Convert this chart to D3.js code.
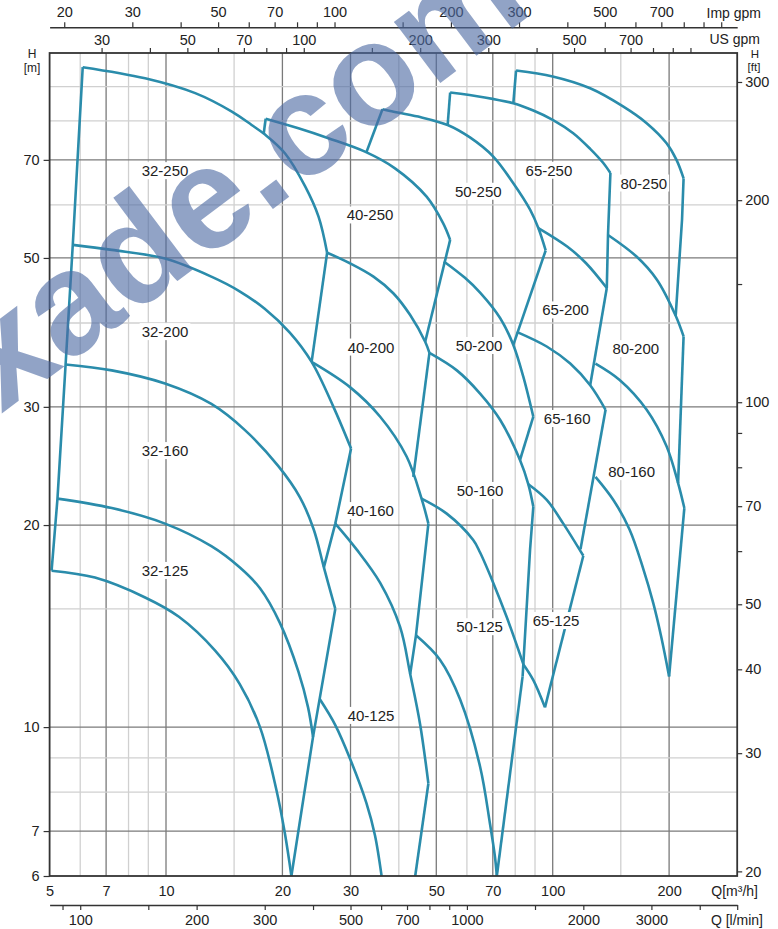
<!DOCTYPE html>
<html><head><meta charset="utf-8">
<script src="https://cdn.jsdelivr.net/npm/d3@7"></script>
<style>
body{margin:0;background:#fff;}
svg{display:block;font-family:"Liberation Sans",Arial,Helvetica,sans-serif;}
</style></head><body>
<svg id="chart" width="778" height="929"></svg>
<script>
// ---------- axis tick values ----------
const gridQ = [6,7,8,9,10,15,20,30,40,50,60,70,80,90,100,150,200];
const qLabels = [5,7,10,20,30,50,70,100,200];
const gridH = [7,8,9,10,15,20,30,40,50,60,70,80,90];
const hLabels = [6,7,10,20,30,50,70];
const impTicks = [20,30,40,50,60,70,80,90,100,150,200,300,400,500,600,700,800,900,1000];
const impLabels = [20,30,50,70,100,200,300,500,700];
const usTicks = [30,40,50,60,70,80,90,100,150,200,300,400,500,600,700,800,900,1000];
const usLabels = [30,50,70,100,200,300,500,700];
const lminTicks = [90,100,150,200,300,400,500,600,700,800,900,1000,1500,2000,3000,4000,5000];
const lminLabels = [100,200,300,500,700,1000,2000,3000];
const ftTicks = [20,30,40,50,60,70,80,90,100,150,200,300];
const ftLabels = [20,30,40,50,70,100,200,300];

// ---------- curves: [Q m3/h, H m] ----------
// family 32
const line32Left   = [[6.09,96.2],[5.74,52.3],[5.50,34.7],[5.24,21.9],[5.06,17.1]];
const top32_250    = [[6.09,96.2],[8.83,92.6],[11.9,88.0],[14.8,82.6],[16.65,78.9],[18.0,76.4],[20.3,71.6],[22.9,63.9],[24.8,57.6],[26.1,50.9]];
const top32_200    = [[5.74,52.3],[7.24,51.4],[9.94,49.9],[13.1,46.9],[15.5,44.6],[18.0,42.0],[20.9,38.7],[23.8,35.0],[27.1,30.0],[30.1,26.0]];
const right32_200  = [[30.1,26.0],[27.4,20.1],[25.6,17.3]];
const top32_160    = [[5.50,34.7],[7.24,34.0],[9.94,32.5],[13.1,30.3],[16.0,27.7],[19.5,24.5],[22.2,22.0],[24.1,19.7],[25.6,17.3],[27.4,15.0]];
const right32_160  = [[27.4,15.0],[24.0,9.67],[21.1,6.0]];
const top32_125    = [[5.24,21.9],[7.24,21.2],[9.94,20.1],[13.1,18.6],[15.5,17.3],[17.5,16.1],[19.7,14.3],[22.0,12.1],[23.3,10.7],[24.0,9.67]];
const bottom32_125 = [[5.06,17.1],[6.55,16.7],[8.83,15.6],[10.8,14.6],[13.4,13.0],[15.5,11.6],[17.5,10.0],[19.3,8.06],[20.3,6.94],[21.1,6.0]];
// family 40
const left40_250   = [[18.1,80.6],[17.9,76.7]];
const top40_250    = [[18.1,80.6],[22.0,78.0],[26.3,75.4],[32.7,72.0],[39.1,68.0],[47.2,61.7],[52.1,56.3],[54.3,53.2]];
const right40_250  = [[54.3,53.2],[46.8,37.5]];
const left40_200   = [[26.1,50.9],[23.8,35.0]];
const top40_200    = [[26.1,50.9],[29.9,49.1],[34.4,46.9],[38.7,44.3],[42.8,41.1],[46.8,37.5],[48.0,36.1]];
const right40_200  = [[48.0,36.1],[43.6,23.6]];
const top40_160    = [[23.8,35.0],[29.9,32.1],[35.8,29.0],[41.9,25.3],[45.8,21.9],[47.7,20.1]];
const right40_160  = [[47.7,20.1],[44.3,13.7],[42.8,12.0]];
const top40_125    = [[27.4,20.1],[31.1,18.4],[35.8,16.4],[40.3,14.1],[42.8,12.0],[45.4,10.1],[47.7,8.24]];
const right40_125  = [[47.7,8.24],[44.1,6.0]];
const bottom40_125 = [[25.0,11.0],[27.4,10.07],[29.9,8.98],[33.0,7.70],[34.7,6.90],[36.1,6.0]];
// family 50
const left50_250   = [[36.3,83.3],[33.0,71.9]];
const top50_250    = [[36.3,83.3],[38.0,82.8],[44.9,81.2],[53.5,78.9],[61.1,75.6],[70.2,70.8],[79.1,64.6],[87.4,59.0],[91.8,55.4],[95.9,51.3]];
const right50_250  = [[95.9,51.3],[79.1,37.1]];
const top50_200    = [[52.3,49.4],[59.3,46.7],[64.9,44.4],[73.1,40.7],[79.1,37.1],[83.9,33.3],[89.1,29.0]];
const right50_200  = [[89.1,29.0],[82.3,25.0]];
const top50_160    = [[48.0,36.1],[56.5,34.0],[64.9,31.4],[73.1,28.7],[82.3,25.0],[86.5,23.0],[89.1,21.3]];
const right50_160  = [[89.1,21.3],[87.4,18.4],[83.6,11.9]];
const bottom50_160 = [[45.8,21.9],[53.2,20.8],[62.3,19.0],[64.9,18.2],[70.2,16.4],[76.0,14.6],[84.0,12.4]];
const right50_125  = [[83.6,11.9],[71.7,6.0]];
const bottom50_125 = [[44.3,13.7],[51.1,12.6],[57.6,11.0],[64.9,8.73],[68.8,7.19],[70.9,6.41],[71.7,6.0]];
// family 65
const left65_250   = [[54.3,88.2],[53.5,78.9]];
const top65_250    = [[54.3,88.2],[66.1,86.8],[79.1,85.0],[89.1,82.9],[100,80.3],[113,76.7],[125,72.7],[135,69.3],[141,66.9]];
const right65_250  = [[141,66.9],[139,54.1],[138,45.1]];
const top65_200    = [[91.8,55.4],[109,52.0],[122,49.1],[138,45.1]];
const right65_200  = [[138,45.1],[125,32.3]];
const top65_160    = [[80.7,38.8],[96.5,36.9],[111,34.8],[125,32.3],[137,29.7]];
const right65_160  = [[137,29.7],[118,18.4]];
const top65_125    = [[86.5,23.0],[96.5,21.8],[106.5,20.1],[120,18.0]];
const right65_125  = [[120,18.0],[95.5,10.7]];
const bottom65_125 = [[84.0,12.4],[89.1,11.75],[95.5,10.7]];
// family 80
const left80_250   = [[80.4,95.1],[79.1,85.0]];
const top80_250    = [[80.4,95.1],[100,93.2],[125,89.5],[152,84.1],[175,79.4],[197,74.1],[209,70.0],[218,65.7]];
const right80_250  = [[218,65.7],[216,57.0],[208,41.0]];
const top80_200    = [[139,54.1],[165,50.2],[186,46.4],[208,41.0],[218,38.2]];
const right80_200  = [[218,38.2],[211,23.1]];
const top80_160    = [[129,34.8],[149,32.9],[175,29.7],[197,26.2],[211,23.1],[219,21.2]];
const right80_160  = [[219,21.2],[200,11.9]];
const bottom80_160 = [[129,23.6],[143.5,21.8],[158,19.7],[171,17.3],[182,15.3],[191,13.6],[200,11.9]];

const curves = [line32Left,top32_250,top32_200,right32_200,top32_160,right32_160,top32_125,bottom32_125,
  left40_250,top40_250,right40_250,left40_200,top40_200,right40_200,top40_160,right40_160,top40_125,right40_125,bottom40_125,
  left50_250,top50_250,right50_250,top50_200,right50_200,top50_160,right50_160,bottom50_160,right50_125,bottom50_125,
  left65_250,top65_250,right65_250,top65_200,right65_200,top65_160,right65_160,top65_125,right65_125,bottom65_125,
  left80_250,top80_250,right80_250,top80_200,right80_200,top80_160,right80_160,bottom80_160];

// ---------- model labels ----------
const modelNames = ["32-250","40-250","50-250","65-250","80-250","32-200","40-200","50-200","65-200","80-200",
                    "32-160","40-160","50-160","65-160","80-160","32-125","40-125","50-125","65-125"];
const modelQ = [9.94,33.7,64.2,97.8,172, 9.94,33.9,64.5,108,164, 9.94,33.8,64.9,109,160, 9.94,33.9,64.7,102];
const modelH = [67.4,57.9,62.8,67.5,64.6, 38.8,36.8,37.0,41.8,36.6, 25.8,21.0,22.5,28.8,24.0, 17.1,10.4,14.1,14.4];

const watermarkText = "xade.com";

// ---------- drawing ----------
const svg = d3.select("#chart");
const x = d3.scaleLog().domain([5,300]).range([49.6,737.2]);
const y = d3.scaleLog().domain([6,101]).range([876,53]);
const [x0,x1] = x.range(); const [yb,yt] = y.range();
const IMP = 0.2727654, US = 0.2271247, LMIN = 0.06, FT = 0.3048;
const xImp = d3.scaleLog().domain([5/IMP,300/IMP]).range(x.range());
const xUS = d3.scaleLog().domain([5/US,300/US]).range(x.range());
const xL = d3.scaleLog().domain([5/LMIN,300/LMIN]).range(x.range());
const yFt = d3.scaleLog().domain([6/FT,101/FT]).range(y.range());

const dark="#7a7a7a", light="#d0d0d0", axisCol="#333", txt="#222", curveCol="#2a8cab";

// grid
const grid = svg.append("g");
grid.selectAll("line.v").data(gridQ).join("line")
  .attr("x1",d=>x(d)).attr("x2",d=>x(d)).attr("y1",yt).attr("y2",yb)
  .attr("stroke",d=>qLabels.includes(d)?dark:light).attr("stroke-width",1.3);
grid.selectAll("line.h").data(gridH).join("line")
  .attr("y1",d=>y(d)).attr("y2",d=>y(d)).attr("x1",x0).attr("x2",x1)
  .attr("stroke",d=>hLabels.includes(d)?dark:light).attr("stroke-width",1.3);

// clip
svg.append("clipPath").attr("id","plotclip").append("rect")
  .attr("x",x0).attr("y",yt).attr("width",x1-x0).attr("height",yb-yt);

const smoothGen = d3.line().x(d=>x(d[0])).y(d=>y(d[1])).curve(d3.curveCatmullRom.alpha(0.5));
const straightGen = d3.line().x(d=>x(d[0])).y(d=>y(d[1])).curve(d3.curveLinear);
const increasing = pts => pts.every((p,i)=>i===0 || p[0]>pts[i-1][0]);
svg.append("g").attr("clip-path","url(#plotclip)")
  .selectAll("path").data(curves).join("path")
  .attr("d",d=> (d.length>2 && increasing(d)) ? smoothGen(d) : straightGen(d))
  .attr("fill","none").attr("stroke",curveCol)
  .attr("stroke-width",2.6).attr("stroke-linejoin","miter").attr("stroke-linecap","butt");

// model labels with white boxes
const lg = svg.append("g");
modelNames.forEach((name,i)=>{
  const gg = lg.append("g");
  const t = gg.append("text").attr("x",x(modelQ[i])).attr("y",y(modelH[i])).attr("dy","0.35em")
    .attr("text-anchor","middle").attr("font-size","15px").attr("fill",txt).text(name);
  const b = t.node().getBBox();
  gg.insert("rect","text").attr("x",b.x-2).attr("y",b.y).attr("width",b.width+4).attr("height",b.height).attr("fill","#fff");
});

// frame
svg.append("rect").attr("x",x0).attr("y",yt).attr("width",x1-x0).attr("height",yb-yt)
  .attr("fill","none").attr("stroke",axisCol).attr("stroke-width",1.8);

function styleAxis(g, keepDomain){
  g.attr("font-family",null).attr("font-size",null);
  g.selectAll("text").attr("font-size","14.5px").attr("fill",txt);
  g.selectAll("line").attr("stroke",axisCol).attr("stroke-width",1.2);
  if(keepDomain) g.select(".domain").attr("stroke",axisCol).attr("stroke-width",1.6);
  else g.select(".domain").remove();
}
const fmt = labels => d => labels.includes(d) ? String(d) : "";

svg.append("g").attr("transform",`translate(0,${yt})`)
  .call(d3.axisTop(xUS).tickValues(usTicks).tickFormat(fmt(usLabels)).tickSize(5).tickSizeOuter(0).tickPadding(3))
  .call(g=>styleAxis(g,false));
svg.append("g").attr("transform","translate(0,27.3)")
  .call(d3.axisTop(xImp).tickValues(impTicks).tickFormat(fmt(impLabels)).tickSize(5).tickSizeOuter(0).tickPadding(5))
  .call(g=>styleAxis(g,true));
svg.append("g").attr("transform",`translate(0,${yb})`)
  .call(d3.axisBottom(x).tickValues(qLabels).tickFormat(d=>String(d)).tickSize(0).tickPadding(10))
  .call(g=>styleAxis(g,false));
svg.append("g").attr("transform","translate(0,905)")
  .call(d3.axisBottom(xL).tickValues(lminTicks).tickFormat(fmt(lminLabels)).tickSize(5).tickSizeOuter(0).tickPadding(5))
  .call(g=>styleAxis(g,true));
svg.append("g").attr("transform",`translate(${x0},0)`)
  .call(d3.axisLeft(y).tickValues(hLabels).tickFormat(d=>String(d)).tickSize(6).tickPadding(4))
  .call(g=>styleAxis(g,false));
svg.append("g").attr("transform",`translate(${x1},0)`)
  .call(d3.axisRight(yFt).tickValues(ftTicks).tickFormat(fmt(ftLabels)).tickSize(5).tickPadding(3))
  .call(g=>styleAxis(g,false));

// unit labels
const unit = (tx,ty,anchor,s,fs)=>svg.append("text").attr("x",tx).attr("y",ty).attr("text-anchor",anchor)
  .attr("font-size",(fs||14)+"px").attr("fill",txt).text(s);
unit(761,17.5,"end","Imp gpm");
unit(760,44,"end","US gpm");
unit(32,58,"middle","H",12);
unit(32,71.5,"middle","[m]",12);
unit(755,58,"middle","H",11.5);
unit(754,71.2,"middle","[ft]",11.5);
unit(758,896,"end","Q[m³/h]");
unit(763,925,"end","Q [l/min]");

// watermark
svg.append("text").attr("transform","translate(1,414) rotate(-37)")
  .attr("font-size","145px").attr("font-weight","bold")
  .attr("fill","#4d6aa3").attr("fill-opacity",0.62).text(watermarkText);
</script>
</body></html>
